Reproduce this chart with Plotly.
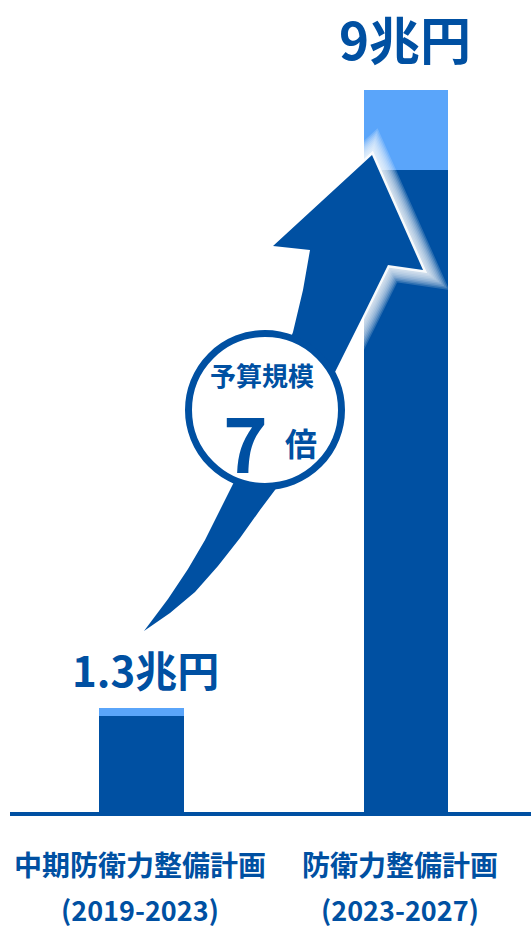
import plotly.graph_objects as go

# data
positions = [0, 1]
plan_names = ["中期防衛力整備計画", "防衛力整備計画"]
plan_periods = ["(2019-2023)", "(2023-2027)"]
base_values = [1.2, 8.0]
top_values = [0.1, 1.0]
total_labels = ["1.3兆円", "9兆円"]
ratio_label = "7"

DARK = "#0050A2"
LIGHT = "#5AA5FA"
FONT = "Noto Sans CJK JP"

W, H = 531, 931
# pixel helpers (plot area: left 10, bottom at 812)
X0_PX, X_UNIT = 141.5, 264.5
Y0_PX, Y_UNIT = 812, 80.2


def dx(px):
    return (px - X0_PX) / X_UNIT


def dy(py):
    return (Y0_PX - py) / Y_UNIT


def py_paper(py):
    return (Y0_PX - py) / Y0_PX


fig = go.Figure()
fig.add_trace(go.Bar(x=positions, y=base_values, width=0.318,
                     marker=dict(color=DARK, line=dict(width=0)), hoverinfo="skip"))
fig.add_trace(go.Bar(x=positions, y=top_values, width=0.318,
                     marker=dict(color=LIGHT, line=dict(width=0)), hoverinfo="skip"))

# curved arrow (decoration), pixel outline
arrow_px = [
    (144, 631), (168, 599), (188, 569), (205, 540), (220, 510), (240, 470),
    (258, 425), (275, 380), (293, 332), (303, 290), (310, 250), (273, 246),
    (372, 155), (423, 270), (388, 265), (362, 318), (335, 372), (312, 425),
    (290, 470), (275, 490), (260, 510), (240, 538), (218, 566), (195, 592),
    (170, 613),
]
path = "M " + " L ".join(f"{dx(x):.4f},{dy(y):.4f}" for x, y in arrow_px) + " Z"

shapes = []
for w in range(32, 2, -3):
    shapes.append(dict(type="path", path=path, xref="x", yref="y", layer="above",
                       line=dict(color="white", width=w), opacity=0.17,
                       fillcolor="rgba(0,0,0,0)"))
shapes.append(dict(type="path", path=path, xref="x", yref="y", layer="above",
                   line=dict(color="white", width=5), opacity=0.8,
                   fillcolor="rgba(0,0,0,0)"))
shapes.append(dict(type="path", path=path, xref="x", yref="y", layer="above",
                   line=dict(width=0), fillcolor=DARK))
cx, cy, r = 265, 410, 76.5
shapes.append(dict(type="circle", xref="x", yref="y", layer="above",
                   x0=dx(cx - r), x1=dx(cx + r), y0=dy(cy + r), y1=dy(cy - r),
                   fillcolor="white", line=dict(color=DARK, width=7)))

annotations = []
label_px = [(140, 864, 909), (400, 864, 909)]
for i, (lx, y1, y2) in enumerate(label_px):
    annotations.append(dict(x=dx(lx), y=py_paper(y1), yref="paper", yanchor="middle",
                            text=plan_names[i], showarrow=False,
                            font=dict(family=FONT, size=28, color=DARK, weight="bold")))
    annotations.append(dict(x=dx(lx), y=py_paper(y2), yref="paper", yanchor="middle",
                            text=plan_periods[i], showarrow=False,
                            font=dict(family=FONT, size=27, color=DARK, weight="bold")))

annotations.append(dict(x=dx(145), y=dy(668), text=total_labels[0], showarrow=False,
                        font=dict(family=FONT, size=42, color=DARK, weight="bold")))
annotations.append(dict(x=dx(405), y=dy(38), text=total_labels[1], showarrow=False,
                        font=dict(family=FONT, size=51, color=DARK, weight="bold")))

annotations.append(dict(x=dx(262), y=dy(374), text="予算規模", showarrow=False,
                        font=dict(family=FONT, size=26, color=DARK, weight="bold")))
annotations.append(dict(x=dx(245), y=dy(440), text=ratio_label, showarrow=False,
                        font=dict(family=FONT, size=76, color=DARK, weight="bold")))
annotations.append(dict(x=dx(301), y=dy(442), text="倍", showarrow=False,
                        font=dict(family=FONT, size=32, color=DARK, weight="bold")))

fig.update_layout(
    width=W, height=H,
    margin=dict(l=10, r=0, t=0, b=H - Y0_PX),
    barmode="stack",
    showlegend=False,
    paper_bgcolor="white",
    plot_bgcolor="white",
    xaxis=dict(range=[dx(10), dx(W)], showgrid=False, zeroline=False,
               showticklabels=False, showline=True, linecolor=DARK, linewidth=4,
               fixedrange=True),
    yaxis=dict(range=[0, dy(0)], showgrid=False, zeroline=False,
               showticklabels=False, fixedrange=True),
    shapes=shapes,
    annotations=annotations,
)

fig.write_html("out.html", config={"displayModeBar": False},
               post_script="document.body.style.margin='0';document.body.style.overflow='hidden';")
